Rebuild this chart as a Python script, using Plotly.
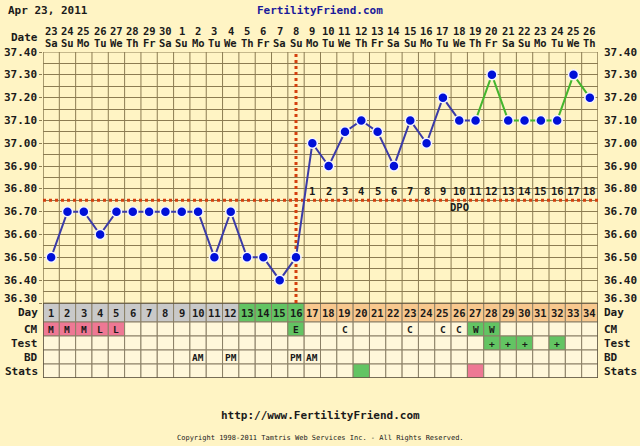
import plotly.graph_objects as go

# ---------------- data ----------------
cycle_days = list(range(1, 35))
date_numbers = [23, 24, 25, 26, 27, 28, 29, 30, 1, 2, 3, 4, 5, 6, 7, 8, 9,
                10, 11, 12, 13, 14, 15, 16, 17, 18, 19, 20, 21, 22, 23, 24, 25, 26]
weekdays = (["Sa", "Su", "Mo", "Tu", "We", "Th", "Fr"] * 5)[:34]
temps = [36.50, 36.70, 36.70, 36.60, 36.70, 36.70, 36.70, 36.70, 36.70, 36.70,
         36.50, 36.70, 36.50, 36.50, 36.40, 36.50,
         37.00, 36.90, 37.05, 37.10, 37.05, 36.90, 37.10, 37.00, 37.20, 37.10,
         37.10, 37.30, 37.10, 37.10, 37.10, 37.10, 37.30, 37.20]
phase = ["pre"] * 12 + ["fertile"] * 4 + ["post"] * 18
cm = ["M", "M", "M", "L", "L", "", "", "", "", "", "", "", "", "", "", "E",
      "", "", "C", "", "", "", "C", "", "C", "C", "W", "W", "", "", "", "", "", ""]
test = [""] * 27 + ["+", "+", "+", "", "+", "", ""]
bd = [""] * 9 + ["AM", "", "PM", "", "", "", "PM", "AM"] + [""] * 17
stats = [""] * 19 + ["a"] + [""] * 6 + ["b"] + [""] * 7
ovulation_day = 16
coverline = 36.75
green_from_day = 27
dpo_numbers = list(range(1, 19))
temp_ticks = [36.30, 36.40, 36.50, 36.60, 36.70, 36.80, 36.90, 37.00, 37.10, 37.20, 37.30, 37.40]
row_names = ["Day", "CM", "Test", "BD", "Stats"]

# ---------------- styles ----------------
BG = "#FFF4C4"
GRID = "#8C7C52"
CELL = "#FFF7DA"
CELL_LINE = "#8A7F66"
GRAY = "#C9C9C9"
GREEN = "#63C463"
ORANGE = "#F8C88E"
PINK = "#EE7894"
RED_DOT = "#D4400E"
FONT = "DejaVu Sans Mono"
TXT = "#1A1A1A"
phase_color = {"pre": GRAY, "fertile": GREEN, "post": ORANGE}
cm_color = {"M": PINK, "L": PINK, "E": GREEN, "W": GREEN, "C": CELL, "": CELL}
stats_color = {"a": GREEN, "b": PINK, "": CELL}

W, H = 640, 446
L, R, T, B = 43, 598, 52, 378
TABLE_TOP = 303
plot_h = B - T
split = (B - TABLE_TOP) / plot_h
# table rows in y2 units (pixels from bottom of table)
row_bounds = {"Day": (56, 75), "CM": (42, 56), "Test": (28, 42), "BD": (14, 28), "Stats": (0, 14)}


def py(px):
    return (B - px) / plot_h


def px_x(px):
    return (px - L) / (R - L)


def f(size=11, color=TXT, bold=True):
    d = dict(family=FONT, size=size, color=color)
    if bold:
        d["weight"] = "bold"
    return d


def ann(x, y, text, xref, yref, font, xanchor="center", yshift=0):
    return dict(x=x, y=y, xref=xref, yref=yref, text=text, showarrow=False,
                xanchor=xanchor, yanchor="middle", yshift=yshift, font=font)


fig = go.Figure()

gi = green_from_day - 1
fig.add_trace(go.Scatter(x=cycle_days[:gi + 1], y=temps[:gi + 1], mode="lines",
                         line=dict(color="#3B3BA8", width=2), hoverinfo="skip", showlegend=False))
fig.add_trace(go.Scatter(x=cycle_days[gi:], y=temps[gi:], mode="lines",
                         line=dict(color="#44B62E", width=2), hoverinfo="skip", showlegend=False))
fig.add_trace(go.Scatter(x=cycle_days, y=temps, mode="markers",
                         marker=dict(color="#0010D8", size=10, line=dict(color="#F4F4FF", width=1.5)),
                         showlegend=False))

shapes = []
shapes.append(dict(type="rect", xref="x", yref="y", x0=0.5, x1=34.5, y0=36.30, y1=37.40,
                   line=dict(color=GRID, width=1), layer="below"))
for i in range(35):
    shapes.append(dict(type="line", xref="x", yref="y", x0=0.5 + i, x1=0.5 + i, y0=36.30, y1=37.40,
                       line=dict(color=GRID, width=1), layer="below"))
shapes.append(dict(type="line", xref="x", yref="y", x0=0.5, x1=34.5, y0=coverline, y1=coverline,
                   line=dict(color=RED_DOT, width=3, dash="3px,3px"), layer="between"))
shapes.append(dict(type="line", xref="x", yref="y", x0=ovulation_day, x1=ovulation_day, y0=36.30, y1=37.40,
                   line=dict(color=RED_DOT, width=3, dash="3px,3px"), layer="between"))

annotations = []
for i, d in enumerate(cycle_days):
    cells = {
        "Day": (phase_color[phase[i]], str(d)),
        "CM": (cm_color[cm[i]], cm[i]),
        "Test": (GREEN if test[i] else CELL, test[i]),
        "BD": (CELL, bd[i]),
        "Stats": (stats_color[stats[i]], ""),
    }
    for rn in row_names:
        fill, txt = cells[rn]
        y0, y1 = row_bounds[rn]
        shapes.append(dict(type="rect", xref="x", yref="y2", x0=d - 0.5, x1=d + 0.5, y0=y0, y1=y1,
                           fillcolor=fill, line=dict(color=CELL_LINE, width=1), layer="above"))
        if txt:
            annotations.append(ann(d, (y0 + y1) / 2, txt, "x", "y2", f(10.5 if rn == "Day" else 9.5)))
shapes.append(dict(type="rect", xref="x", yref="y2", x0=0.5, x1=34.5, y0=0, y1=75,
                   line=dict(color="#5E5440", width=1.5), layer="above"))

for rn in row_names:
    y0, y1 = row_bounds[rn]
    yc = (y0 + y1) / 2
    annotations.append(ann(px_x(40), yc, rn, "paper", "y2", f(11), xanchor="right"))
    annotations.append(ann(px_x(602), yc, rn, "paper", "y2", f(11), xanchor="left"))

for v in temp_ticks:
    ys = 5 if v == temp_ticks[0] else 0
    annotations.append(ann(px_x(39), v, f"{v:.2f}", "paper", "y", f(11), xanchor="right", yshift=ys))
    annotations.append(ann(px_x(602), v, f"{v:.2f}", "paper", "y", f(11), xanchor="left", yshift=ys))

for d, dn, wd in zip(cycle_days, date_numbers, weekdays):
    annotations.append(ann(d, py(31), str(dn), "x", "paper", f(10.5)))
    annotations.append(ann(d, py(43), wd, "x", "paper", f(10.5)))
annotations.append(ann(px_x(40), py(37), "Date", "paper", "paper", f(11), xanchor="right"))

for k, n in enumerate(dpo_numbers):
    annotations.append(ann(ovulation_day + 1 + k, 36.79, str(n), "x", "y", f(10.5)))
annotations.append(ann(26, 36.72, "DPO", "x", "y", f(10.5)))

annotations.append(ann(px_x(6), py(10), "Apr 23, 2011", "paper", "paper", f(11), xanchor="left"))
annotations.append(ann(px_x(320), py(10), "FertilityFriend.com", "paper", "paper", f(11, "#1A1A9A")))
annotations.append(ann(px_x(320), py(415), "http://www.FertilityFriend.com", "paper", "paper", f(11)))
annotations.append(ann(px_x(320), py(438),
                       "Copyright 1998-2011 Tamtris Web Services Inc. - All Rights Reserved.",
                       "paper", "paper", f(7, bold=False)))

fig.update_layout(
    width=W, height=H, autosize=False,
    margin=dict(l=L, r=W - R, t=T, b=H - B, pad=0, autoexpand=False),
    paper_bgcolor=BG, plot_bgcolor=BG,
    showlegend=False,
    font=dict(family=FONT, size=11, color=TXT),
    xaxis=dict(range=[0.5, 34.5], showgrid=False, zeroline=False, showticklabels=False, ticks="",
               fixedrange=True, automargin=False),
    yaxis=dict(domain=[split, 1], range=[36.30, 37.40], tickvals=temp_ticks, showticklabels=False,
               ticks="outside", ticklen=3, tickcolor=GRID,
               showgrid=True, gridcolor=GRID, gridwidth=1, zeroline=False, automargin=False,
               minor=dict(dtick=0.05, tick0=36.30, showgrid=True, gridcolor=GRID, gridwidth=1),
               fixedrange=True),
    yaxis2=dict(domain=[0, split], range=[0, 75], showgrid=False, zeroline=False, showticklabels=False,
                anchor="x", automargin=False, fixedrange=True),
    shapes=shapes,
    annotations=annotations,
)

fig.write_html(
    "out.html",
    config={"displayModeBar": False, "staticPlot": True},
    post_script="document.body.style.margin='0';document.body.style.padding='0';"
                "document.body.style.background='" + BG + "';document.body.style.overflow='hidden';",
)
